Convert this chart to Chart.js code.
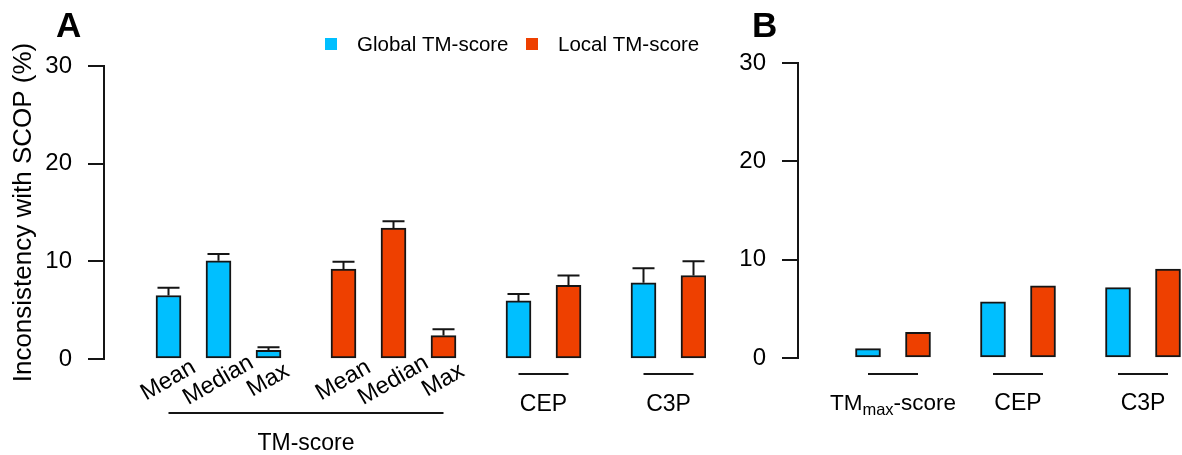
<!DOCTYPE html>
<html>
<head>
<meta charset="utf-8">
<script src="https://cdn.jsdelivr.net/npm/chart.js@4.4.1/dist/chart.umd.min.js"></script>
<style>
  html, body { margin: 0; padding: 0; background: #fff; }
  #wrap { position: relative; width: 1182px; height: 455px; overflow: hidden; }
  canvas { position: absolute; top: 0; }
  #chartA { left: 0; }
  #chartB { left: 720px; }
</style>
</head>
<body>
<div id="wrap">
  <canvas id="chartA" width="740" height="455"></canvas>
  <canvas id="chartB" width="462" height="455"></canvas>
</div>
<script>
// values (%)
const seriesNames = ['Global TM-score', 'Local TM-score'];
const tmStats = ['Mean', 'Median', 'Max'];
const methodsA = ['CEP', 'C3P'];

const globalTM = [6.5, 10.05, 0.9];
const globalTMErr = [0.8, 0.7, 0.3];
const localTM = [9.2, 13.4, 2.4];
const localTMErr = [0.75, 0.7, 0.65];

const globalMethodsA = [5.95, 7.8];
const globalMethodsAErr = [0.7, 1.5];
const localMethodsA = [7.55, 8.55];
const localMethodsAErr = [1.0, 1.45];

const methodsB = ['TMmax-score', 'CEP', 'C3P'];
const globalB = [0.95, 5.7, 7.15];
const localB = [2.6, 7.35, 9.05];

const colors = ['#00BFFF', '#EE4000'];
const ink = '#000';
const lineInk = '#151515';
const family = "'Liberation Sans', Arial, Helvetica, sans-serif";
Chart.defaults.font.family = family;
Chart.defaults.color = ink;

// slot positions (25px per slot) built from the categories
const slotsA = {
  global: tmStats.map((_, i) => 2 * i).concat(methodsA.map((_, j) => 14 + 5 * j)),
  local: tmStats.map((_, i) => 7 + 2 * i).concat(methodsA.map((_, j) => 16 + 5 * j))
};
const slotsB = {
  global: methodsB.map((_, j) => 5 * j),
  local: methodsB.map((_, j) => 5 * j + 2)
};

function toPoints(values, slots) {
  return values.map((v, k) => ({ x: slots[k], y: v }));
}

function barSet(label, color, values, slots, errors) {
  return {
    label: label,
    data: toPoints(values, slots),
    errors: errors,
    backgroundColor: color,
    borderColor: lineInk,
    borderWidth: 2,
    borderSkipped: false,
    barThickness: 25,
    grouped: false
  };
}

const errorBars = {
  id: 'errorBars',
  afterDatasetsDraw(chart) {
    const ctx = chart.ctx;
    const y = chart.scales.y;
    ctx.save();
    ctx.strokeStyle = lineInk;
    ctx.lineWidth = 2;
    chart.data.datasets.forEach((ds, di) => {
      if (!ds.errors) return;
      chart.getDatasetMeta(di).data.forEach((bar, i) => {
        const top = y.getPixelForValue(ds.data[i].y + ds.errors[i]);
        ctx.beginPath();
        ctx.moveTo(bar.x, bar.y);
        ctx.lineTo(bar.x, top);
        ctx.moveTo(bar.x - 11, top);
        ctx.lineTo(bar.x + 11, top);
        ctx.stroke();
      });
    });
    ctx.restore();
  }
};

function hline(ctx, x1, x2, yy) {
  ctx.beginPath();
  ctx.moveTo(x1, yy);
  ctx.lineTo(x2, yy);
  ctx.stroke();
}

function yAxis(width, withTitle) {
  return {
    min: 0, max: 30,
    afterFit: s => { s.width = width; },
    ticks: { stepSize: 10, padding: 16, color: ink, font: { size: 24 } },
    grid: { drawOnChartArea: false, tickLength: 16, color: lineInk, lineWidth: 2 },
    border: { display: true, color: lineInk, width: 2 },
    title: {
      display: withTitle,
      text: 'Inconsistency with SCOP (%)',
      color: ink,
      font: { size: 26 },
      padding: { top: 8, bottom: 0 }
    }
  };
}

const decorA = {
  id: 'decorA',
  afterDraw(chart) {
    const ctx = chart.ctx;
    const x = chart.scales.x;
    ctx.save();
    ctx.fillStyle = ink;
    ctx.strokeStyle = lineInk;
    ctx.lineWidth = 2;

    ctx.font = 'bold 35px ' + family;
    ctx.textAlign = 'left';
    ctx.textBaseline = 'alphabetic';
    ctx.fillText('A', 56, 37);

    // legend
    const legendX = [325, 526];
    ctx.font = '20.5px ' + family;
    chart.data.datasets.forEach((ds, i) => {
      ctx.fillStyle = ds.backgroundColor;
      ctx.fillRect(legendX[i], 38, 12, 12);
      ctx.fillStyle = ink;
      ctx.fillText(ds.label, legendX[i] + 32, 51);
    });

    // rotated stat labels
    ctx.font = '23.5px ' + family;
    ctx.textAlign = 'center';
    const statSlots = slotsA.global.slice(0, tmStats.length).concat(slotsA.local.slice(0, tmStats.length));
    statSlots.forEach((s, k) => {
      ctx.save();
      ctx.translate(x.getPixelForValue(s) + 3, 386);
      ctx.rotate(-Math.PI / 6);
      ctx.fillText(tmStats[k % tmStats.length], 0, 0);
      ctx.restore();
    });

    // TM-score group
    ctx.font = '23px ' + family;
    const x1 = x.getPixelForValue(slotsA.global[0]);
    const x2 = x.getPixelForValue(slotsA.local[tmStats.length - 1]);
    hline(ctx, x1, x2, 413);
    ctx.fillText('TM-score', (x1 + x2) / 2, 450);

    // method groups
    methodsA.forEach((m, j) => {
      const a = x.getPixelForValue(slotsA.global[tmStats.length + j]);
      const b = x.getPixelForValue(slotsA.local[tmStats.length + j]);
      hline(ctx, a, b, 374);
      ctx.fillText(m, (a + b) / 2, 411);
    });
    ctx.restore();
  }
};

const decorB = {
  id: 'decorB',
  afterDraw(chart) {
    const ctx = chart.ctx;
    const x = chart.scales.x;
    ctx.save();
    ctx.fillStyle = ink;
    ctx.strokeStyle = lineInk;
    ctx.lineWidth = 2;

    ctx.font = 'bold 35px ' + family;
    ctx.textAlign = 'left';
    ctx.fillText('B', 32, 37);

    methodsB.forEach((m, j) => {
      const a = x.getPixelForValue(slotsB.global[j]);
      const b = x.getPixelForValue(slotsB.local[j]);
      const mid = (a + b) / 2;
      hline(ctx, a, b, 374);
      if (m.startsWith('TMmax')) {
        // TM with subscript "max"
        const parts = [['TM', 22.5, 0], ['max', 16.5, 5], ['-score', 22.5, 0]];
        let total = 0;
        parts.forEach(p => { ctx.font = p[1] + 'px ' + family; total += ctx.measureText(p[0]).width; });
        let cx = mid - total / 2;
        ctx.textAlign = 'left';
        parts.forEach(p => {
          ctx.font = p[1] + 'px ' + family;
          ctx.fillText(p[0], cx, 410 + p[2]);
          cx += ctx.measureText(p[0]).width;
        });
      } else {
        ctx.font = '23px ' + family;
        ctx.textAlign = 'center';
        ctx.fillText(m, mid, 410);
      }
    });
    ctx.restore();
  }
};

new Chart(document.getElementById('chartA'), {
  type: 'bar',
  data: {
    datasets: [
      barSet(seriesNames[0], colors[0], globalTM.concat(globalMethodsA), slotsA.global, globalTMErr.concat(globalMethodsAErr)),
      barSet(seriesNames[1], colors[1], localTM.concat(localMethodsA), slotsA.local, localTMErr.concat(localMethodsAErr))
    ]
  },
  options: {
    responsive: false,
    animation: false,
    layout: { padding: { left: 0, right: 34, top: 66, bottom: 96 } },
    plugins: { legend: { display: false }, tooltip: { enabled: false } },
    scales: {
      x: { type: 'linear', min: -2.58, max: 21.5, offset: false, display: false },
      y: yAxis(104, true)
    }
  },
  plugins: [errorBars, decorA]
});

new Chart(document.getElementById('chartB'), {
  type: 'bar',
  data: {
    datasets: [
      barSet(seriesNames[0], colors[0], globalB, slotsB.global, null),
      barSet(seriesNames[1], colors[1], localB, slotsB.local, null)
    ]
  },
  options: {
    responsive: false,
    animation: false,
    layout: { padding: { left: 0, right: 0, top: 63, bottom: 97 } },
    plugins: { legend: { display: false }, tooltip: { enabled: false } },
    scales: {
      x: { type: 'linear', min: -2.8, max: 12.56, offset: false, display: false },
      y: yAxis(78, false)
    }
  },
  plugins: [errorBars, decorB]
});
</script>
</body>
</html>
